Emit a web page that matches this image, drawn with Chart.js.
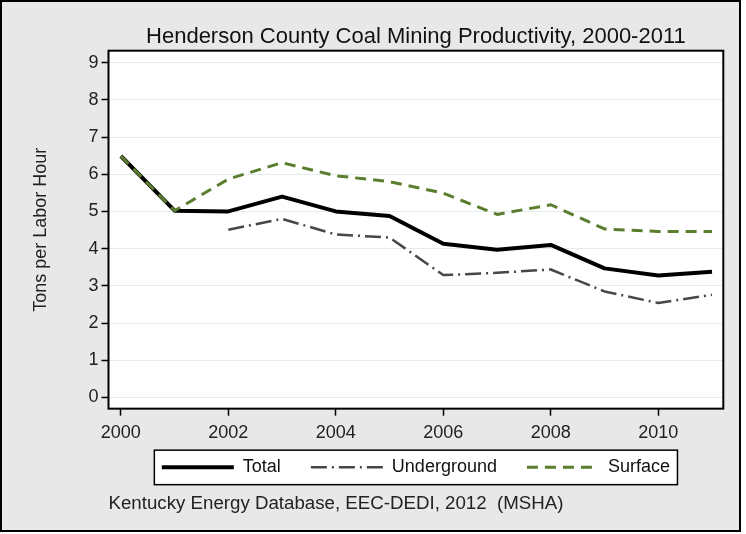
<!DOCTYPE html>
<html>
<head>
<meta charset="utf-8">
<script src="https://cdn.jsdelivr.net/npm/chart.js@4"></script>
<style>
  html, body { margin: 0; padding: 0; background: #fff; }
</style>
</head>
<body>
<canvas id="chart" width="746" height="534"></canvas>
<script>
// values (tons per labor hour)
var years = [2000, 2001, 2002, 2003, 2004, 2005, 2006, 2007, 2008, 2009, 2010, 2011];
var total = [6.49, 5.02, 5.00, 5.40, 5.00, 4.88, 4.13, 3.97, 4.10, 3.47, 3.28, 3.38];
var underground = [null, null, 4.51, 4.80, 4.38, 4.30, 3.29, 3.35, 3.44, 2.85, 2.54, 2.76];
var surface = [6.49, 5.02, 5.87, 6.31, 5.96, 5.80, 5.49, 4.92, 5.18, 4.53, 4.46, 4.46];
var yTicks = [0, 1, 2, 3, 4, 5, 6, 7, 8, 9];
var xTicks = [2000, 2002, 2004, 2006, 2008, 2010];

Chart.defaults.font.family = '"Liberation Sans", Arial, sans-serif';
Chart.defaults.color = '#222';

function points(vals) {
  return years.map(function (y, i) { return { x: y, y: vals[i] }; });
}

// legend frame geometry, taken from the legend's own layout
function legendFrame(chart) {
  var lg = chart.legend;
  var p = lg.options.labels.padding;
  var span = lg.lineWidths[0] - p;
  var cx = (lg.left + lg.right) / 2;
  var cy = lg.top + p + 9;
  return { left: cx - span / 2 - 7.5, right: cx + span / 2 + 7.5, top: cy - 17, bottom: cy + 17.5 };
}

var framePlugin = {
  id: 'frame',
  afterLayout: function (chart) {
    // x axis box is kept short so the legend sits close; let its labels spill below
    var x = chart.scales.x;
    x.bottom = x.top + 40;
    x.height = 40;
  },
  beforeDraw: function (chart) {
    var c = chart.ctx, a = chart.chartArea;
    c.save();
    c.fillStyle = '#e8e8e8';
    c.fillRect(1, 1, 739, 530);
    c.fillStyle = '#fff';
    c.fillRect(a.left, a.top, a.right - a.left, a.bottom - a.top);
    var f = legendFrame(chart);
    c.fillRect(f.left, f.top, f.right - f.left, f.bottom - f.top);
    c.restore();
  },
  afterDraw: function (chart) {
    var c = chart.ctx, a = chart.chartArea;
    c.save();
    c.strokeStyle = '#000';
    c.lineWidth = 2;
    c.strokeRect(a.left, a.top, a.right - a.left, a.bottom - a.top);
    var f = legendFrame(chart);
    c.lineWidth = 1.5;
    c.strokeRect(f.left, f.top, f.right - f.left, f.bottom - f.top);
    c.lineWidth = 2;
    c.strokeRect(1, 1, 739, 530);
    c.restore();
  }
};

new Chart(document.getElementById('chart'), {
  type: 'line',
  data: {
    datasets: [
      { label: 'Total', data: points(total), borderColor: '#000', borderWidth: 4, order: 3 },
      { label: 'Underground', data: points(underground), borderColor: '#474747', borderWidth: 2.5, borderDash: [16, 5, 2, 5], order: 2 },
      { label: 'Surface', data: points(surface), borderColor: '#5a7e2e', borderWidth: 3, borderDash: [11, 7], order: 1 }
    ]
  },
  options: {
    responsive: false,
    animation: false,
    events: [],
    elements: { point: { radius: 0 }, line: { tension: 0, borderJoinStyle: 'round' } },
    layout: { padding: { left: 0, right: 22.7, top: 4, bottom: 19.4 } },
    scales: {
      x: {
        type: 'linear', min: 1999.77, max: 2011.21,
        afterBuildTicks: function (s) { s.ticks = xTicks.map(function (v) { return { value: v }; }); },
        afterFit: function (s) { s.height = 19.5; },
        grid: { drawOnChartArea: false, tickLength: 7, tickColor: '#000', tickWidth: 1.5 },
        border: { display: false },
        ticks: { font: { size: 18 }, padding: 7, callback: function (v) { return String(v); } }
      },
      y: {
        min: -0.3, max: 9.32,
        afterBuildTicks: function (s) { s.ticks = yTicks.map(function (v) { return { value: v }; }); },
        afterFit: function (s) { s.width = 108.5; },
        grid: { color: '#e3eded', tickLength: 7, tickColor: '#000', tickWidth: 1.5 },
        border: { display: false },
        ticks: { font: { size: 18 }, padding: 3 },
        title: { display: true, text: 'Tons per Labor Hour', font: { size: 18 }, padding: { top: 30, bottom: 0 } }
      }
    },
    plugins: {
      title: {
        display: true, fullSize: false,
        text: 'Henderson County Coal Mining Productivity, 2000-2011',
        color: '#111', font: { size: 22, weight: 'normal' },
        padding: { top: 19.8, bottom: 0.5 }
      },
      subtitle: {
        display: true, fullSize: false, position: 'bottom', align: 'start',
        text: 'Kentucky Energy Database, EEC-DEDI, 2012  (MSHA)',
        font: { size: 18.7 }, padding: { top: 6, bottom: 0 }
      },
      legend: {
        position: 'bottom', fullSize: false,
        labels: {
          usePointStyle: true, pointStyle: 'line', pointStyleWidth: 72,
          padding: 30, color: '#111', font: { size: 18 },
          sort: function (a, b) { return a.datasetIndex - b.datasetIndex; },
          generateLabels: function (chart) {
            var items = Chart.defaults.plugins.legend.labels.generateLabels(chart);
            items.forEach(function (it) {
              var ds = chart.data.datasets[it.datasetIndex];
              it.strokeStyle = ds.borderColor;
              it.lineWidth = ds.borderWidth;
              it.lineDash = ds.borderDash || [];
            });
            return items;
          }
        }
      },
      tooltip: { enabled: false }
    }
  },
  plugins: [framePlugin]
});
</script>
</body>
</html>
